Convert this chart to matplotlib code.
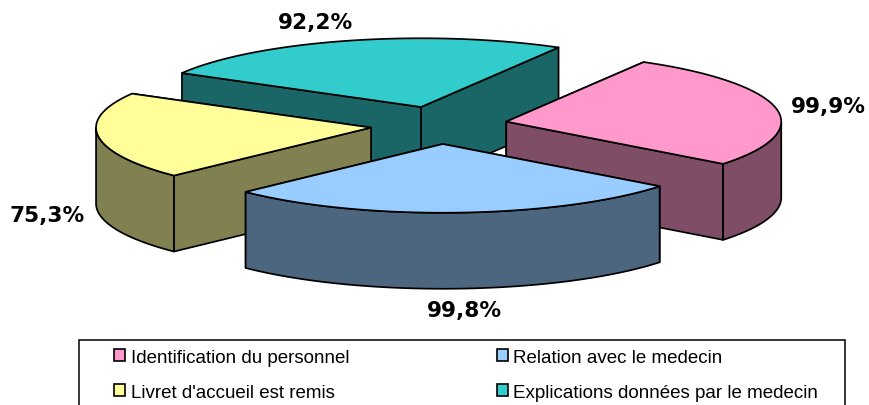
import numpy as np
import matplotlib
matplotlib.use("Agg")
import matplotlib.pyplot as plt
from matplotlib.patches import Polygon, Rectangle

categories = ["Identification du personnel", "Relation avec le medecin",
              "Livret d'accueil est remis", "Explications données par le medecin"]
values = [99.9, 99.8, 75.3, 92.2]
top_colors = ["#FF99CC", "#99CCFF", "#FFFF99", "#33CCCC"]
side_colors = ["#804D66", "#4D6680", "#808050", "#1A6666"]

START = 30.0          # first slice edge, degrees clockwise from top
CX, CY = 439, 126.2   # centre, px
R = 275               # radius, px
K = 0.25              # vertical squash of the disc
K_EXPLODE = 0.275     # vertical squash of the explosion offset
EXPLODE = 68.5        # explosion distance, px
DEPTH = 76            # thickness, px
LW = 1.25

label_pos = [(828, 107.5), (464, 311.5), (47, 216.5), (316, 23.5)]

fig = plt.figure(figsize=(8.7, 4.06), dpi=100)
ax = fig.add_axes([0, 0, 1, 1])
ax.set_xlim(0, 870)
ax.set_ylim(406, 0)
ax.axis("off")

vals = np.array(values, dtype=float)
sweeps = vals / vals.sum() * 360
starts = START + np.concatenate(([0], np.cumsum(sweeps)[:-1]))


def pt(theta, ax0, ay0, r=R):
    t = np.radians(theta)
    return ax0 + r * np.sin(t), ay0 - r * K * np.cos(t)


def draw_slice(i, z):
    a0, a1 = starts[i], starts[i] + sweeps[i]
    mid = np.radians((a0 + a1) / 2)
    ox = CX + EXPLODE * np.sin(mid)
    oy = CY - EXPLODE * K_EXPLODE * np.cos(mid)
    th = np.linspace(a0, a1, 160)
    x, y = pt(th, ox, oy)
    kw = dict(edgecolor="black", linewidth=LW, joinstyle="round", zorder=z)
    # radial walls, the one further back first
    for a in sorted((a0, a1), key=lambda q: pt(q, ox, oy)[1]):
        px, py = pt(a, ox, oy)
        ax.add_patch(Polygon([(ox, oy), (px, py), (px, py + DEPTH), (ox, oy + DEPTH)],
                             facecolor=side_colors[i], **kw))
    # outer wall: only the front-facing part of the arc
    s = np.cos(np.radians(th)) <= 0
    if s.any():
        xs, ys = x[s], y[s]
        ax.add_patch(Polygon(np.r_[np.c_[xs, ys], np.c_[xs[::-1], ys[::-1] + DEPTH]],
                             facecolor=side_colors[i], **kw))
    ax.add_patch(Polygon(np.r_[[(ox, oy)], np.c_[x, y]], facecolor=top_colors[i], **kw))


# back to front
for z, i in enumerate([3, 2, 0, 1]):
    draw_slice(i, 2 + z)

for v, (lx, ly) in zip(values, label_pos):
    ax.text(lx, ly, f"{v:.1f}%".replace(".", ","), ha="center", va="center",
            fontsize=15.6, fontweight="bold", family="DejaVu Sans", color="black", zorder=10)

ax.add_patch(Rectangle((79.5, 340.5), 766, 80, facecolor="white", edgecolor="black",
                       linewidth=1.1, zorder=11, clip_on=True))

order = [0, 2, 1, 3]
handles = [Rectangle((0, 0), 1, 1, facecolor=top_colors[i], edgecolor="black", linewidth=1.2)
           for i in order]
FS = 13.5
leg = ax.legend(handles, [categories[i] for i in order], ncol=2, frameon=False,
                loc="upper left", bbox_to_anchor=(114, 350), bbox_transform=ax.transData,
                borderpad=0, borderaxespad=0, handlelength=0.6, handleheight=0.6,
                handletextpad=0.3, labelspacing=0.95, columnspacing=7.85,
                prop={"family": "Liberation Sans", "size": FS})
leg.set_zorder(12)

fig.savefig("out.png", dpi=100, facecolor="white")
